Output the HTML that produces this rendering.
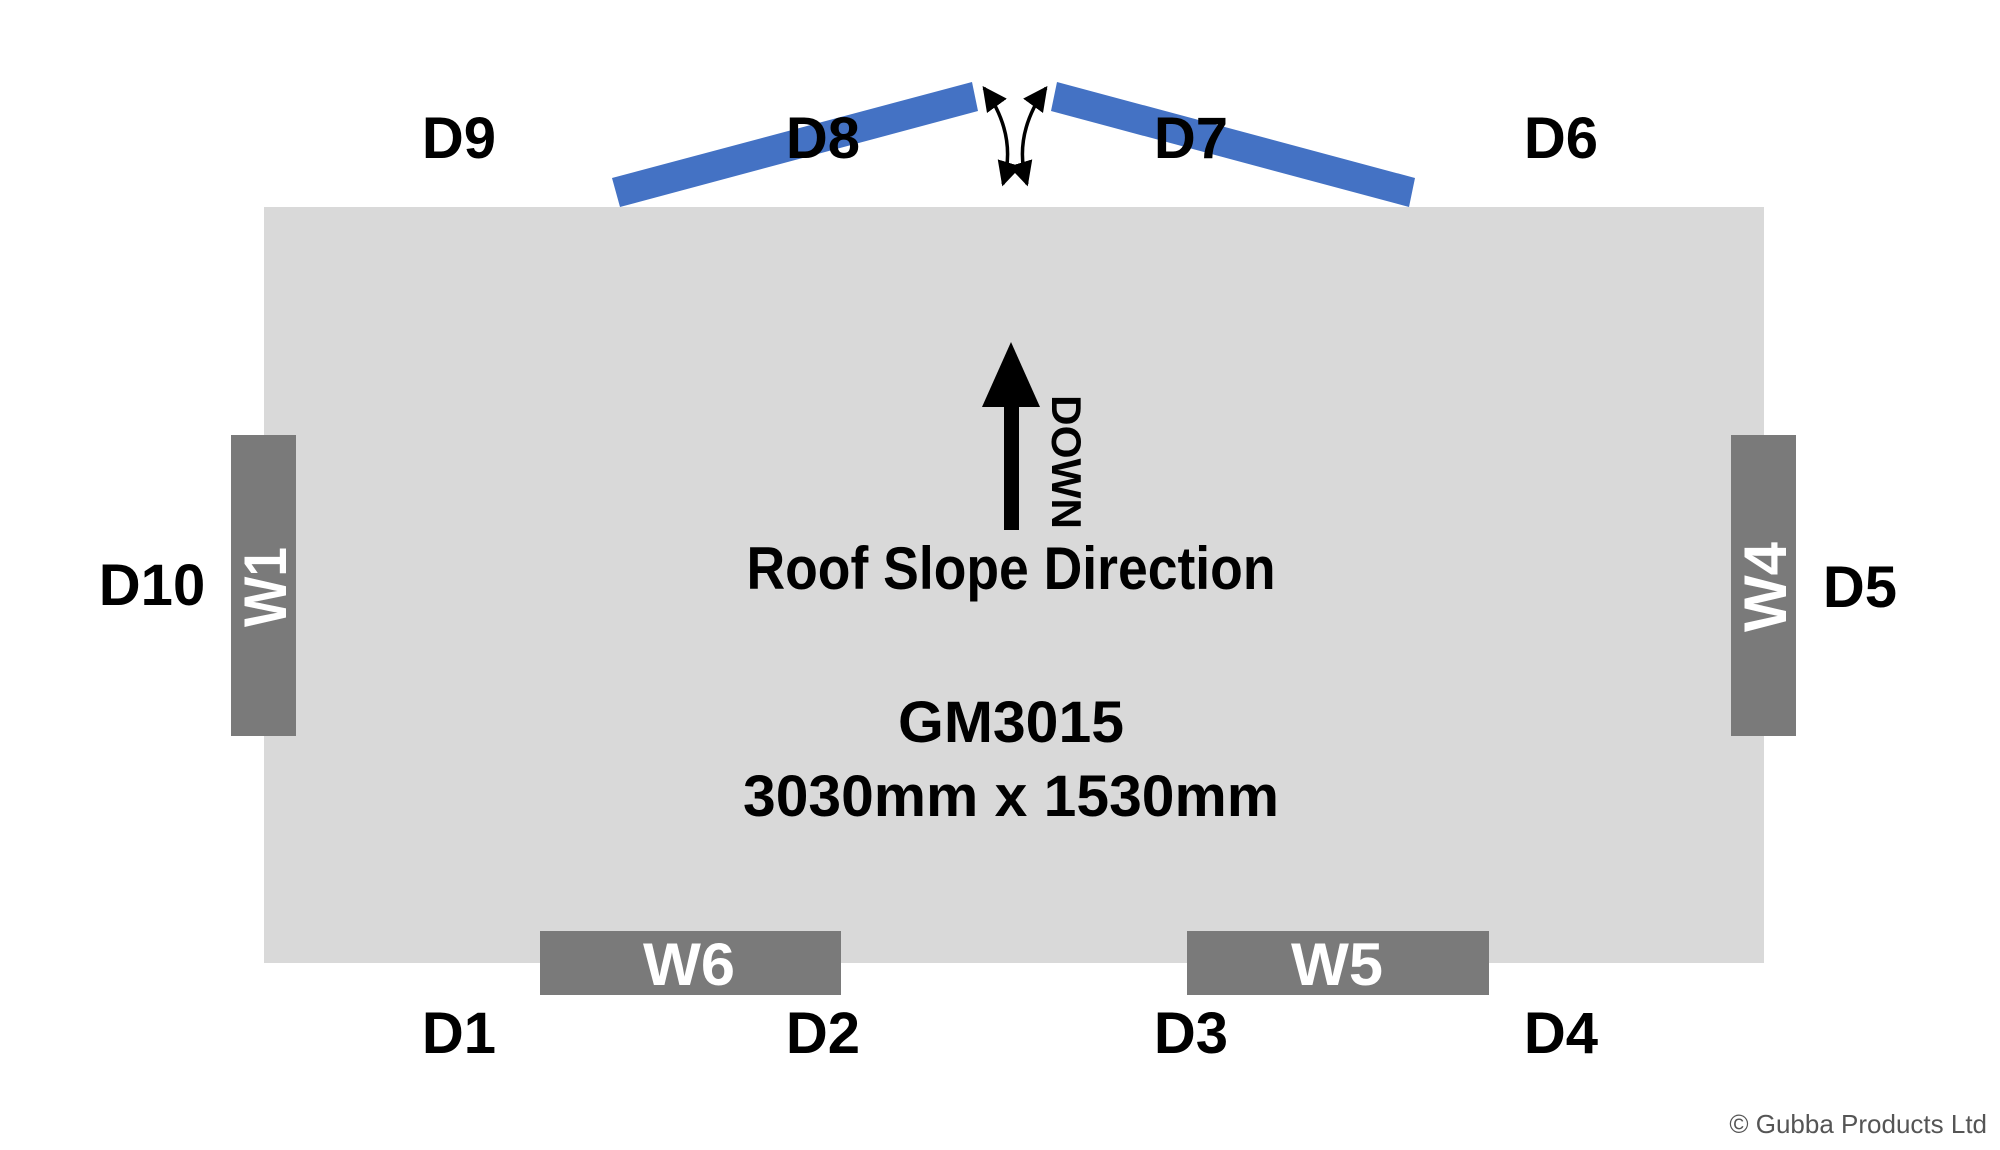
<!DOCTYPE html>
<html><head><meta charset="utf-8"><style>html,body{margin:0;padding:0;background:#fff}svg{display:block}</style></head>
<body>
<svg width="2000" height="1150" viewBox="0 0 2000 1150" xmlns="http://www.w3.org/2000/svg" font-family="Liberation Sans, sans-serif" font-weight="bold">
<rect x="264" y="207" width="1500" height="756" fill="#d9d9d9"/>
<polygon points="612,178 972,82 978,111 620,207" fill="#4472c4"/>
<polygon points="1057,82 1415,178 1409,207 1051,111" fill="#4472c4"/>
<defs><marker id="ah" viewBox="0 0 10 10" refX="9" refY="5" markerWidth="7" markerHeight="7" orient="auto-start-reverse"><path d="M0,0 L10,5 L0,10 z" fill="#000"/></marker></defs>
<path d="M984,88 Q1018,135 1003,184" stroke="#000" stroke-width="3.5" fill="none" marker-start="url(#ah)" marker-end="url(#ah)"/>
<path d="M1046,88 Q1012,135 1027,184" stroke="#000" stroke-width="3.5" fill="none" marker-start="url(#ah)" marker-end="url(#ah)"/>
<rect x="1004" y="400" width="15" height="130" fill="#000"/>
<polygon points="1011,342 1040,407 982,407" fill="#000"/>
<text transform="translate(1052,462) rotate(90)" text-anchor="middle" font-size="42" textLength="134" lengthAdjust="spacingAndGlyphs">DOWN</text>
<rect x="231" y="435" width="65" height="301" fill="#7a7a7a"/>
<rect x="1731" y="435" width="65" height="301" fill="#7a7a7a"/>
<rect x="540" y="931" width="301" height="64" fill="#7a7a7a"/>
<rect x="1187" y="931" width="302" height="64" fill="#7a7a7a"/>
<text transform="translate(286,587) rotate(-90)" text-anchor="middle" font-size="60" fill="#fff" textLength="80" lengthAdjust="spacingAndGlyphs">W1</text>
<text transform="translate(1786,587) rotate(-90)" text-anchor="middle" font-size="60" fill="#fff" textLength="90" lengthAdjust="spacingAndGlyphs">W4</text>
<text x="689" y="985" text-anchor="middle" font-size="60" fill="#fff" textLength="92" lengthAdjust="spacingAndGlyphs">W6</text>
<text x="1337" y="985" text-anchor="middle" font-size="60" fill="#fff" textLength="92" lengthAdjust="spacingAndGlyphs">W5</text>
<text x="1011" y="589" text-anchor="middle" font-size="60" textLength="529" lengthAdjust="spacingAndGlyphs">Roof Slope Direction</text>
<text x="1011" y="742" text-anchor="middle" font-size="58" textLength="226" lengthAdjust="spacingAndGlyphs">GM3015</text>
<text x="1011" y="816" text-anchor="middle" font-size="58" textLength="536" lengthAdjust="spacingAndGlyphs">3030mm x 1530mm</text>
<g font-size="58" text-anchor="middle">
<text x="459" y="158">D9</text><text x="823" y="158">D8</text><text x="1191" y="158">D7</text><text x="1561" y="158">D6</text>
<text x="459" y="1053">D1</text><text x="823" y="1053">D2</text><text x="1191" y="1053">D3</text><text x="1561" y="1053">D4</text>
<text x="152" y="605">D10</text><text x="1860" y="607">D5</text>
</g>
<text x="1987" y="1133" text-anchor="end" font-size="26" font-weight="normal" fill="#555">© Gubba Products Ltd</text>
</svg>
</body></html>
